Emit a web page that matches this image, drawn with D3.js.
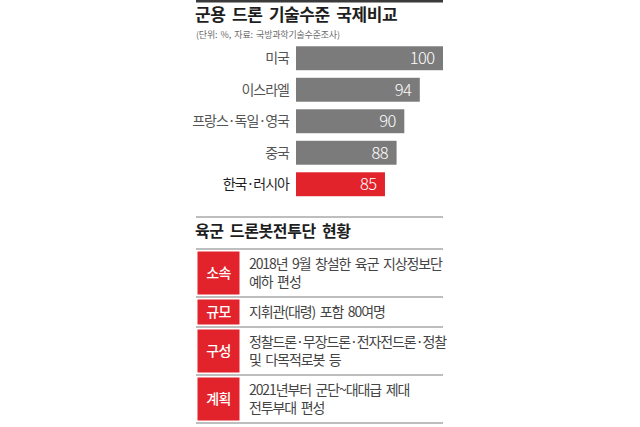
<!DOCTYPE html>
<html>
<head>
<meta charset="utf-8">
<script src="https://cdn.jsdelivr.net/npm/d3@7"></script>
<style>
  body { margin: 0; background: #fff; }
  svg text { font-family: "Noto Sans CJK KR", "Noto Sans", sans-serif; }
</style>
</head>
<body>
<svg></svg>
<script>
let countries = ['미국', '이스라엘', '프랑스·독일·영국', '중국', '한국·러시아']
let scores = [100, 94, 90, 88, 85]
let highlight = '한국·러시아'

let rowLabels = ['소속', '규모', '구성', '계획']
let rowTexts = [
  ['2018년 9월 창설한 육군 지상정보단', '예하 편성'],
  ['지휘관(대령) 포함 80여명'],
  ['정찰드론·무장드론·전자전드론·정찰', '및 다목적로봇 등'],
  ['2021년부터 군단~대대급 제대', '전투부대 편성']
]

let width = 640
let height = 427
let left = 196
let right = 443
let barStart = 296
let red = '#e3232b'
let gray = '#7b7b7b'

let svg = d3.select('svg').attr('width', width).attr('height', height)

// top section
svg.append('rect')
  .attr('x', left).attr('y', 0)
  .attr('width', right - left).attr('height', 2.5)
  .attr('fill', '#3a3a3a')

svg.append('text')
  .attr('x', left - 1).attr('y', 21)
  .attr('font-size', 17).attr('font-weight', 700)
  .attr('letter-spacing', -0.4)
  .attr('word-spacing', 3)
  .attr('fill', '#1e1e1e')
  .text('군용 드론 기술수준 국제비교')

svg.append('text')
  .attr('x', left).attr('y', 38)
  .attr('font-size', 9)
  .attr('letter-spacing', -0.2)
  .attr('word-spacing', 1.5)
  .attr('fill', '#6a6a6a')
  .text('(단위: %, 자료: 국방과학기술수준조사)')

let xScale = d3.scaleLinear().domain([62, 100]).range([barStart, right])
let yScale = d3.scaleBand().domain(countries).range([42.5, 200])
  .paddingInner(0.24).paddingOuter(0.12)

let bars = countries.map((c, i) => ({ name: c, value: scores[i] }))

svg.selectAll('rect.bar')
  .data(bars)
  .enter()
  .append('rect')
  .attr('class', 'bar')
  .attr('x', xScale(62))
  .attr('y', d => yScale(d.name))
  .attr('width', d => xScale(d.value) - xScale(62))
  .attr('height', yScale.bandwidth())
  .attr('fill', d => d.name == highlight ? red : gray)

svg.selectAll('text.val')
  .data(bars)
  .enter()
  .append('text')
  .attr('class', 'val')
  .attr('x', d => xScale(d.value) - 8.5)
  .attr('y', d => yScale(d.name) + yScale.bandwidth() / 2 + 6)
  .attr('text-anchor', 'end')
  .attr('font-size', 16.5).attr('font-weight', 300)
  .attr('letter-spacing', -0.6)
  .attr('fill', '#fff')
  .text(d => d.value)

svg.selectAll('text.cat')
  .data(bars)
  .enter()
  .append('text')
  .attr('class', 'cat')
  .attr('x', barStart - 7)
  .attr('y', d => yScale(d.name) + yScale.bandwidth() / 2 + 5)
  .attr('text-anchor', 'end')
  .attr('font-size', 14)
  .attr('letter-spacing', -1)
  .attr('fill', d => d.name == highlight ? '#1e1e1e' : '#555')
  .text(d => d.name)

// bottom section
let lineColor = '#a8a8a8'

let hline = y => svg.append('line')
  .attr('x1', left).attr('x2', right)
  .attr('y1', y).attr('y2', y)
  .attr('stroke', lineColor).attr('stroke-width', 1.5)

hline(217)

svg.append('text')
  .attr('x', left - 1).attr('y', 237)
  .attr('font-size', 16).attr('font-weight', 700)
  .attr('letter-spacing', -0.4)
  .attr('word-spacing', 3)
  .attr('fill', '#1e1e1e')
  .text('육군 드론봇전투단 현황')

let tableTop = 249
let lineH = 18.5
let rowH = rowTexts.map(t => 12 + 18 * t.length)
let rowY = rowH.map((h, i) => tableTop + d3.sum(rowH.slice(0, i)))

hline(tableTop)

let rows = svg.selectAll('g.row')
  .data(rowLabels.map((l, i) => ({ label: l, lines: rowTexts[i], y: rowY[i], h: rowH[i] })))
  .enter()
  .append('g')
  .attr('class', 'row')
  .attr('transform', d => 'translate(0,' + d.y + ')')

rows.append('rect')
  .attr('x', left + 1.5).attr('y', 2.5)
  .attr('width', 42)
  .attr('height', d => d.h - 5)
  .attr('fill', red)

rows.append('text')
  .attr('x', left + 22.5)
  .attr('y', d => d.h / 2 + 5)
  .attr('text-anchor', 'middle')
  .attr('font-size', 14).attr('font-weight', 500)
  .attr('letter-spacing', -0.6)
  .attr('fill', '#fff')
  .text(d => d.label)

rows.each(function (d) {
  let g = d3.select(this)
  let n = d.lines.length
  g.selectAll('text.line')
    .data(d.lines)
    .enter()
    .append('text')
    .attr('class', 'line')
    .attr('x', 249)
    .attr('y', (t, j) => d.h / 2 + 5 + (j - (n - 1) / 2) * lineH)
    .attr('font-size', 14)
    .attr('letter-spacing', -1.1)
    .attr('word-spacing', 2.5)
    .attr('fill', '#444')
    .text(t => t)
})

rows.append('line')
  .attr('x1', left).attr('x2', right)
  .attr('y1', d => d.h).attr('y2', d => d.h)
  .attr('stroke', lineColor).attr('stroke-width', 1.5)
</script>
</body>
</html>
